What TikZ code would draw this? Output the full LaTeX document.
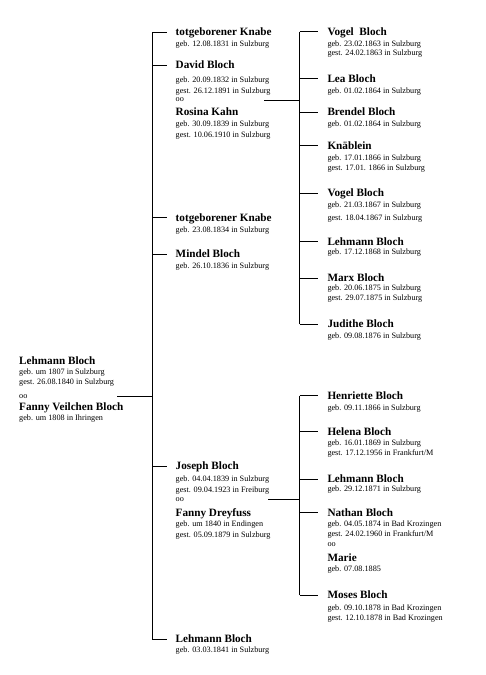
\documentclass[tikz,border=0pt]{standalone}
\usepackage{fontspec}
\setmainfont{Liberation Serif}
\begin{document}
\begin{tikzpicture}[
    x=1pt, y=-1pt,
    person/.style={anchor=base west, inner sep=0pt, font=\fontsize{11.2}{13}\selectfont\bfseries, text height=6.5pt, text depth=0pt},
    info/.style={anchor=base west, inner sep=0pt, align=left, font=\fontsize{8.2}{10}\selectfont},
    line/.style={line width=0.8pt},
    tick/.style={line width=0.8pt, shorten >=9pt}
]
\useasboundingbox (0,0) rectangle (486,675);

% info nodes sit on the baseline of their last line
\node[person] (lehmann) at (19,364) {Lehmann Bloch};
\node[info] (lehmanni) at (19,384) {geb. um 1807 in Sulzburg\\gest. 26.08.1840 in Sulzburg};
\node[info] (oo1) at (19,398.3) {oo};
\node[person] (fanny) at (19,410.7) {Fanny Veilchen Bloch};
\node[info] (fannyi) at (19,420.7) {geb. um 1808 in Ihringen};

\node[person] (knabe1) at (175.5,35.7) {totgeborener Knabe};
\node[info] (knabe1i) at (175.5,46) {geb. 12.08.1831 in Sulzburg};
\node[person] (david) at (175.5,68.3) {David Bloch};
\node[info] (davidi) at (175.5,93.3) {geb. 20.09.1832 in Sulzburg\\[0.6pt]gest. 26.12.1891 in Sulzburg};
\node[info] (oo2) at (175.5,101.7) {oo};
\node[person] (rosina) at (175.5,115) {Rosina Kahn};
\node[info] (rosinai) at (175.5,137.7) {geb. 30.09.1839 in Sulzburg\\[1pt]gest. 10.06.1910 in Sulzburg};
\node[person] (knabe2) at (175.5,221) {totgeborener Knabe};
\node[info] (knabe2i) at (175.5,232.3) {geb. 23.08.1834 in Sulzburg};
\node[person] (mindel) at (175.5,257.3) {Mindel Bloch};
\node[info] (mindeli) at (175.5,268.3) {geb. 26.10.1836 in Sulzburg};
\node[person] (joseph) at (175.5,469.3) {Joseph Bloch};
\node[info] (josephi) at (175.5,492.3) {geb. 04.04.1839 in Sulzburg\\[0.6pt]gest. 09.04.1923 in Freiburg};
\node[info] (oo3) at (175.5,501.7) {oo};
\node[person] (dreyfuss) at (175.5,516) {Fanny Dreyfuss};
\node[info] (dreyfussi) at (175.5,537.3) {geb. um 1840 in Endingen\\[0.6pt]gest. 05.09.1879 in Sulzburg};
\node[person] (lehmann2) at (175.5,642.7) {Lehmann Bloch};
\node[info] (lehmann2i) at (175.5,652.7) {geb. 03.03.1841 in Sulzburg};

\node[person] (vogel1) at (327.3,35) {Vogel\ \ Bloch};
\node[info] (vogel1i) at (327.3,55.3) {geb. 23.02.1863 in Sulzburg\\[-0.7pt]gest. 24.02.1863 in Sulzburg};
\node[person] (lea) at (327.3,82) {Lea Bloch};
\node[info] (leai) at (327.3,93) {geb. 01.02.1864 in Sulzburg};
\node[person] (brendel) at (327.3,115.7) {Brendel Bloch};
\node[info] (brendeli) at (327.3,126.7) {geb. 01.02.1864 in Sulzburg};
\node[person] (knablein) at (327.3,149) {Knäblein};
\node[info] (knableini) at (327.3,170.5) {geb. 17.01.1866 in Sulzburg\\gest. 17.01. 1866 in Sulzburg};
\node[person] (vogel2) at (327.3,196.7) {Vogel Bloch};
\node[info] (vogel2i) at (327.3,220) {geb. 21.03.1867 in Sulzburg\\[3pt]gest. 18.04.1867 in Sulzburg};
\node[person] (lehmann3) at (327.3,245) {Lehmann Bloch};
\node[info] (lehmann3i) at (327.3,254.3) {geb. 17.12.1868 in Sulzburg};
\node[person] (marx) at (327.3,281.7) {Marx Bloch};
\node[info] (marxi) at (327.3,300) {geb. 20.06.1875 in Sulzburg\\gest. 29.07.1875 in Sulzburg};
\node[person] (judithe) at (327.3,327.3) {Judithe Bloch};
\node[info] (judithei) at (327.3,338.3) {geb. 09.08.1876 in Sulzburg};

\node[person] (henriette) at (327.3,399) {Henriette Bloch};
\node[info] (henriettei) at (327.3,410.7) {geb. 09.11.1866 in Sulzburg};
\node[person] (helena) at (327.3,435) {Helena Bloch};
\node[info] (helenai) at (327.3,455) {geb. 16.01.1869 in Sulzburg\\gest. 17.12.1956 in Frankfurt/M};
\node[person] (lehmann4) at (327.3,482.3) {Lehmann Bloch};
\node[info] (lehmann4i) at (327.3,491.7) {geb. 29.12.1871 in Sulzburg};
\node[person] (nathan) at (327.3,516) {Nathan Bloch};
\node[info] (nathani) at (327.3,536.7) {geb. 04.05.1874 in Bad Krozingen\\gest. 24.02.1960 in Frankfurt/M};
\node[info] (oo4) at (327.3,546.7) {oo};
\node[person] (marie) at (327.3,561.7) {Marie};
\node[info] (mariei) at (327.3,571.7) {geb. 07.08.1885};
\node[person] (moses) at (327.3,598.3) {Moses Bloch};
\node[info] (mosesi) at (327.3,620) {geb. 09.10.1878 in Bad Krozingen\\gest. 12.10.1878 in Bad Krozingen};

\coordinate (bus1) at (152,0);
\coordinate (bus2) at (299.5,0);
\coordinate (couple1) at (117,396.7);
\coordinate (couple2) at (264,100);
\coordinate (couple3) at (268,499);

\draw[line] (couple1) -- (bus1 |- couple1);
\draw[line] (bus1 |- knabe1.west) -- (bus1 |- lehmann2.west);
\foreach \n in {knabe1,david,knabe2,mindel,joseph,lehmann2}
    \draw[tick] (bus1 |- \n.west) -- (\n.west);

\draw[line] (couple2) -- (bus2 |- couple2);
\draw[line] (bus2 |- vogel1.west) -- (bus2 |- judithe.west);
\foreach \n in {vogel1,lea,brendel,knablein,vogel2,lehmann3,marx,judithe}
    \draw[tick] (bus2 |- \n.west) -- (\n.west);

\draw[line] (couple3) -- (bus2 |- couple3);
\draw[line] (bus2 |- henriette.west) -- (bus2 |- moses.west);
\foreach \n in {henriette,helena,lehmann4,nathan,moses}
    \draw[tick] (bus2 |- \n.west) -- (\n.west);

\end{tikzpicture}
\end{document}
